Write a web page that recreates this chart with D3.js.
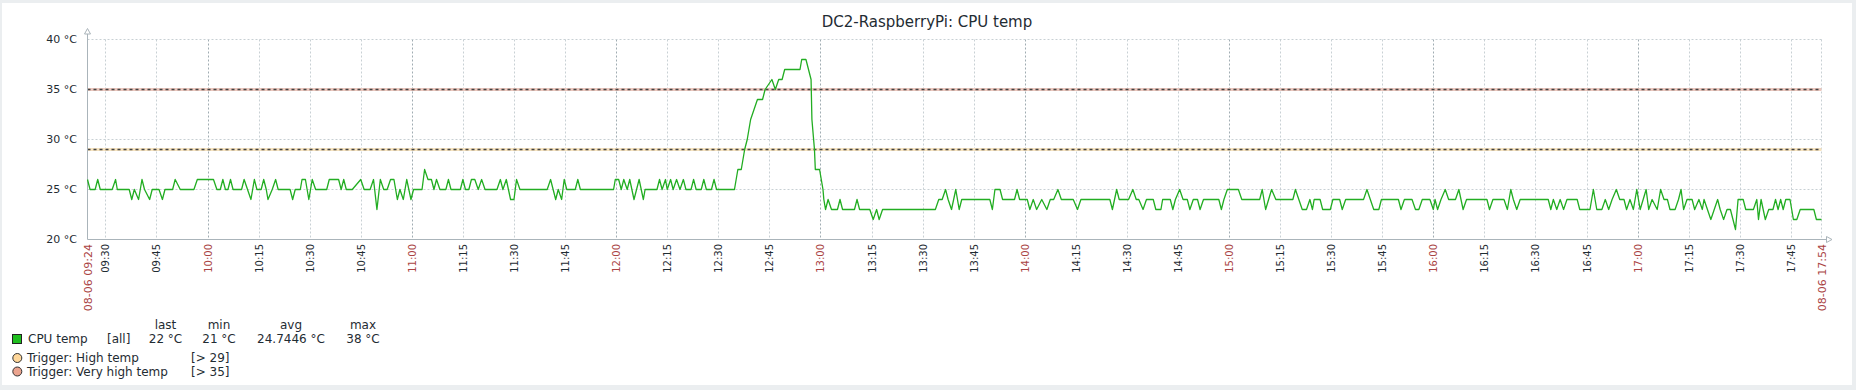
<!DOCTYPE html>
<html><head><meta charset="utf-8">
<script src="https://cdn.jsdelivr.net/npm/d3@7/dist/d3.min.js"></script>
<style>
html,body{margin:0;padding:0;background:#ebeef0;}
svg{display:block;font-family:"DejaVu Sans",sans-serif;}
</style></head><body>
<svg id="chart" width="1856" height="390"></svg>
<script>
const title = "DC2-RaspberryPi: CPU temp";
const xStart = "09:24:45", xEnd = "17:54:00";
const startLabel = "08-06 09:24", endLabel = "08-06 17:54";
const yTicks = [20, 25, 30, 35, 40];
const times = ["09:24:45","09:25:30","09:27:00","09:27:45","09:28:30","09:32:00","09:33:00","09:33:30","09:37:00","09:37:45","09:38:30","09:39:45","09:40:45","09:41:30","09:43:00","09:43:45","09:45:45","09:46:45","09:47:30","09:49:45","09:50:30","09:52:00","09:56:00","09:57:00","10:01:45","10:02:45","10:03:45","10:04:30","10:05:15","10:06:00","10:06:45","10:07:30","10:10:00","10:10:45","10:11:45","10:12:45","10:13:45","10:14:30","10:15:45","10:16:30","10:17:15","10:17:45","10:19:00","10:20:00","10:20:45","10:24:15","10:25:00","10:25:45","10:27:15","10:27:45","10:28:45","10:29:45","10:30:45","10:31:45","10:35:00","10:35:45","10:38:30","10:39:15","10:40:00","10:40:45","10:42:30","10:45:00","10:46:00","10:47:45","10:48:45","10:49:45","10:50:45","10:51:45","10:52:45","10:53:45","10:54:45","10:55:45","10:56:30","10:57:30","10:58:30","10:59:45","11:00:30","11:03:00","11:03:45","11:04:45","11:05:45","11:06:30","11:07:15","11:08:15","11:10:00","11:10:45","11:11:30","11:14:15","11:15:00","11:15:45","11:16:45","11:17:30","11:18:30","11:19:30","11:20:30","11:21:30","11:25:00","11:26:00","11:26:45","11:27:45","11:29:00","11:30:00","11:30:45","11:31:45","11:39:45","11:40:45","11:42:15","11:43:00","11:44:00","11:44:45","11:45:30","11:48:00","11:48:45","11:49:30","11:59:15","11:59:45","12:00:45","12:01:30","12:02:15","12:03:15","12:04:00","12:05:15","12:06:45","12:08:00","12:08:30","12:12:00","12:12:45","12:13:30","12:14:30","12:15:00","12:16:00","12:16:45","12:17:45","12:18:45","12:19:45","12:20:30","12:22:00","12:22:45","12:23:30","12:25:00","12:25:45","12:26:30","12:28:00","12:28:45","12:29:30","12:34:45","12:35:45","12:36:45","12:37:45","12:38:30","12:39:00","12:39:30","12:40:30","12:41:30","12:43:00","12:43:45","12:45:45","12:46:45","12:47:45","12:48:45","12:49:30","12:54:00","12:54:30","12:55:45","12:56:30","12:57:15","12:57:30","12:58:15","12:58:30","12:59:45","13:00:45","13:01:00","13:01:30","13:02:15","13:03:15","13:05:00","13:05:45","13:06:30","13:10:00","13:10:45","13:11:30","13:14:30","13:15:30","13:16:30","13:17:15","13:18:15","13:33:45","13:34:45","13:35:45","13:36:45","13:37:30","13:38:30","13:39:45","13:40:45","13:41:30","13:49:45","13:50:30","13:51:15","13:52:45","13:53:30","13:57:00","13:57:45","13:58:30","14:00:45","14:01:30","14:02:30","14:03:30","14:05:00","14:06:30","14:07:30","14:08:30","14:09:45","14:10:45","14:14:15","14:15:30","14:16:30","14:25:00","14:25:45","14:27:00","14:27:45","14:30:30","14:31:45","14:32:45","14:33:30","14:34:45","14:35:45","14:37:45","14:38:30","14:40:00","14:40:30","14:42:45","14:43:30","14:44:15","14:45:30","14:46:30","14:47:45","14:48:30","14:49:30","14:50:45","14:51:30","14:52:30","14:57:00","14:57:45","14:58:30","14:59:30","15:02:45","15:03:45","15:09:00","15:09:45","15:10:45","15:12:30","15:13:45","15:18:45","15:19:30","15:20:30","15:21:30","15:22:45","15:23:45","15:24:30","15:25:00","15:26:45","15:27:30","15:29:45","15:30:30","15:32:30","15:33:15","15:34:15","15:39:30","15:40:30","15:41:30","15:42:30","15:44:00","15:44:45","15:49:45","15:50:30","15:51:30","15:53:45","15:54:45","15:55:45","15:56:45","15:59:00","16:00:00","16:00:30","16:01:15","16:02:15","16:03:30","16:04:30","16:06:30","16:07:30","16:08:45","16:09:45","16:15:45","16:16:30","16:17:30","16:20:45","16:21:45","16:22:45","16:23:30","16:24:30","16:25:30","16:33:45","16:34:30","16:35:15","16:36:15","16:37:15","16:38:15","16:39:15","16:42:15","16:43:00","16:46:00","16:47:00","16:48:00","16:49:30","16:50:30","16:51:30","16:52:30","16:53:45","16:54:45","16:56:00","16:56:45","16:57:45","16:58:45","16:59:45","17:00:45","17:02:30","17:03:15","17:04:15","17:05:45","17:06:45","17:07:45","17:08:45","17:09:30","17:11:00","17:12:00","17:12:45","17:13:30","17:14:30","17:16:00","17:16:45","17:18:00","17:19:00","17:19:30","17:20:30","17:21:30","17:22:30","17:23:30","17:24:15","17:25:15","17:26:15","17:27:15","17:28:00","17:28:45","17:29:30","17:31:00","17:31:45","17:34:00","17:35:00","17:35:30","17:36:15","17:37:30","17:38:30","17:39:45","17:40:30","17:41:15","17:42:00","17:42:45","17:43:30","17:44:45","17:45:45","17:46:45","17:47:45","17:51:45","17:52:30","17:54:00"];
const temps = [26,25,25,26,25,25,26,25,25,24,25,24,26,25,24,25,25,24,25,25,26,25,25,26,26,25,25,26,25,25,26,25,25,26,25,24,26,25,25,26,25,24,25,26,25,25,24,25,25,26,26,24,26,25,25,26,26,25,26,25,25,26,25,25,26,23,26,25,25,26,26,24,25,24,26,24,25,25,27,26,26,25,26,25,25,26,25,25,26,25,25,26,26,25,26,25,25,26,25,26,24,24,26,25,25,26,24,25,24,26,25,25,26,25,25,26,26,25,26,25,26,24,26,24,25,25,26,25,26,25,26,25,26,25,26,25,25,26,25,25,26,25,25,26,25,25,27,27,29,30,31,32,33,34,34,35,36,35,36,36,37,37,38,38,37,36,32,29,27,27,25,24,23,24,23,23,24,23,23,24,23,23,22,23,22,23,23,24,24,25,24,23,25,23,24,24,23,25,25,24,24,25,24,24,23,24,23,24,23,24,24,25,24,24,23,24,24,23,25,24,24,25,24,24,23,24,24,23,23,24,24,23,24,25,24,24,23,24,24,23,24,24,23,24,25,25,24,24,25,23,25,24,24,25,24,23,23,24,23,24,24,23,23,24,24,23,24,24,25,24,23,23,24,24,23,24,24,23,23,24,24,23,24,23,24,25,24,24,25,23,24,24,23,24,24,23,25,24,23,24,24,23,24,23,24,23,24,24,23,23,25,23,23,24,23,24,25,24,24,23,24,23,25,23,25,23,24,23,25,24,24,23,23,24,25,23,24,24,23,24,23,24,23,22,23,24,23,22,23,23,22,21,24,24,23,23,24,22,24,22,23,23,24,23,24,23,24,24,22,22,23,23,22,22];
const seriesName = "CPU temp", seriesFunc = "[all]";
const statHeaders = ["last", "min", "avg", "max"];
const statValues = ["22 °C", "21 °C", "24.7446 °C", "38 °C"];
const triggerNames = ["Trigger: High temp", "Trigger: Very high temp"];
const triggerConds = ["[> 29]", "[> 35]"];
const triggerValues = [29, 35];

const C = {bg:"#ffffff", text:"#1f2c33", grid:"#c8d0d4", mainGrid:"#a0acb2", axis:"#aab4ba",
  red:"#aa4444", line:"#22ad22", legendFill:"#1fbf1f",
  trigBand:["#f6e3bf", "#eac6bd"], trigDot:["#ffd79a", "#eba48f"]};

const svg = d3.select("#chart");
svg.append("rect").attr("x", 2).attr("y", 3).attr("width", 1850).attr("height", 382).attr("fill", C.bg);

const parse = d3.timeParse("%H:%M:%S");
const data = times.map((t, i) => ({t: parse(t), v: temps[i]}));
const t0 = parse(xStart), t1 = parse(xEnd);
const L = 87.5, R = 1821.5, T = 39.5, B = 239.5;
const x = d3.scaleTime().domain([t0, t1]).range([L, R]);
const y = d3.scaleLinear().domain([20, 40]).range([B, T]);

svg.append("text").attr("x", 927).attr("y", 26.5).attr("text-anchor", "middle")
  .attr("font-size", 15).attr("fill", C.text).text(title);

// grid
const ticks = d3.timeMinute.every(15).range(t0, t1);
const g = svg.append("g");
g.selectAll("line.v").data(ticks).join("line")
  .attr("x1", d => Math.round(x(d)) + 0.5).attr("x2", d => Math.round(x(d)) + 0.5)
  .attr("y1", T).attr("y2", B)
  .attr("stroke", d => d.getMinutes() === 0 ? C.mainGrid : C.grid)
  .attr("stroke-dasharray", "2,2");
g.append("line").attr("x1", R).attr("x2", R).attr("y1", T).attr("y2", B)
  .attr("stroke", C.grid).attr("stroke-dasharray", "2,2");
g.selectAll("line.h").data(yTicks.slice(1)).join("line")
  .attr("x1", L).attr("x2", R).attr("y1", d => y(d)).attr("y2", d => y(d))
  .attr("stroke", C.grid).attr("stroke-dasharray", "2,2");

// y labels
svg.append("g").selectAll("text").data(yTicks).join("text")
  .attr("x", 77).attr("y", d => y(d)).attr("dy", "0.36em").attr("text-anchor", "end")
  .attr("font-size", 11).attr("fill", C.text).text(d => d + " °C");

// x labels
const fmt = d3.timeFormat("%H:%M");
const xl = svg.append("g");
const lab = [...ticks.map(d => ({t: d, s: fmt(d), red: d.getMinutes() === 0, fs: 10})),
  {t: t0, s: startLabel, red: true, fs: 11}, {t: t1, s: endLabel, red: true, fs: 11}];
xl.selectAll("text").data(lab).join("text")
  .attr("transform", d => `translate(${Math.round(x(d.t)) + 0.5},244) rotate(-90)`)
  .attr("font-size", d => d.fs)
  .attr("dy", "0.35em").attr("text-anchor", "end")
  .attr("fill", d => d.red ? C.red : C.text).text(d => d.s);

// trigger lines
triggerValues.forEach((v, i) => {
  svg.append("line").attr("x1", L).attr("x2", R).attr("y1", y(v)).attr("y2", y(v))
    .attr("stroke", C.trigBand[i]).attr("stroke-width", 3);
  svg.append("line").attr("x1", L).attr("x2", R).attr("y1", y(v)).attr("y2", y(v))
    .attr("stroke", "#444").attr("stroke-width", 1.6).attr("stroke-dasharray", "3,3");
});

// axes
svg.append("line").attr("x1", L).attr("x2", L).attr("y1", 33).attr("y2", B).attr("stroke", C.axis);
svg.append("line").attr("x1", L).attr("x2", 1827).attr("y1", B).attr("y2", B).attr("stroke", C.axis);
svg.append("path").attr("d", `M${L - 3},34 L${L},28.5 L${L + 3},34 Z`).attr("fill", "#fff").attr("stroke", C.axis);
svg.append("path").attr("d", `M1826.5,${B - 3} L1832,${B} L1826.5,${B + 3} Z`).attr("fill", "#fff").attr("stroke", C.axis);

// series
svg.append("path").datum(data)
  .attr("d", d3.line().x(d => x(d.t)).y(d => y(d.v)))
  .attr("fill", "none").attr("stroke", C.line).attr("stroke-width", 1.3).attr("stroke-linejoin", "round");

// legend
const lg = svg.append("g").attr("font-size", 12).attr("fill", C.text);
const statX = [165.5, 219, 291, 363];
statHeaders.forEach((h, i) => lg.append("text").attr("x", statX[i]).attr("y", 329).attr("text-anchor", "middle").text(h));
statValues.forEach((h, i) => lg.append("text").attr("x", statX[i]).attr("y", 343).attr("text-anchor", "middle").text(h));
lg.append("rect").attr("x", 12.5).attr("y", 334.5).attr("width", 9).attr("height", 9)
  .attr("fill", C.legendFill).attr("stroke", "#222");
lg.append("text").attr("x", 28).attr("y", 343).text(seriesName);
lg.append("text").attr("x", 107).attr("y", 343).text(seriesFunc);
triggerNames.forEach((n, i) => {
  const yy = 362 + i * 13.5;
  lg.append("circle").attr("cx", 17.3).attr("cy", yy - 4).attr("r", 4.5)
    .attr("fill", C.trigDot[i]).attr("stroke", "#333");
  lg.append("text").attr("x", 27).attr("y", yy).text(n);
  lg.append("text").attr("x", 191).attr("y", yy).text(triggerConds[i]);
});
</script></body></html>
